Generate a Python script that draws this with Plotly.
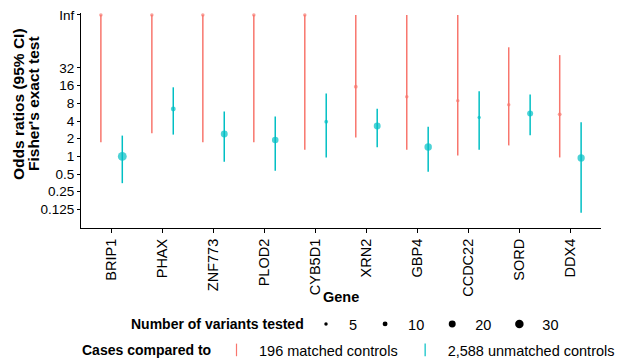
import numpy as np
import plotly.graph_objects as go

genes = ["BRIP1", "PHAX", "ZNF773", "PLOD2", "CYB5D1", "XRN2", "GBP4", "CCDC22", "SORD", "DDX4"]
INF = np.inf
matched_or = [INF, INF, INF, INF, INF, 15.4, 10.4, 8.9, 7.6, 5.2]
matched_lo = [1.74, 2.47, 1.74, 1.74, 1.3, 2.1, 1.3, 1.04, 1.54, 0.96]
matched_hi = [INF, INF, INF, INF, INF, INF, INF, INF, 72, 53]
matched_n = [5, 5, 5, 5, 5, 6, 5, 5, 5, 6]

unmatched_or = [1.0, 6.4, 2.4, 1.9, 3.9, 3.3, 1.45, 4.6, 5.4, 0.94]
unmatched_lo = [0.35, 2.35, 0.81, 0.57, 0.96, 1.43, 0.55, 1.3, 2.28, 0.11]
unmatched_hi = [2.26, 15, 5.8, 4.8, 11.8, 6.5, 3.2, 12.8, 11.3, 3.8]
unmatched_n = [33, 10, 20, 18, 6, 20, 23, 5, 15, 22]

legend_sizes = [5, 10, 20, 30]
tick_vals = [0.125, 0.25, 0.5, 1, 2, 4, 8, 16, 32, INF]
tick_text = ["0.125", "0.25", "0.5", "1", "2", "4", "8", "16", "32", "Inf"]

INF_POS = 8.0  # log2 position used for "Inf"
RED = "#F8766D"
TEAL = "#00BFC4"
FONT = "Liberation Sans, Arial, sans-serif"
W, H = 617, 361
ML, MT, MB, MR = 81, 13, 133, 16
PW, PH = W - ML - MR, H - MT - MB


def l2(v):
    v = np.asarray(v, dtype=float)
    out = np.log2(np.where(np.isinf(v), 1, v))
    return np.where(np.isinf(v), INF_POS, out)


def diam(n):
    return 1.55 * np.sqrt(np.asarray(n, dtype=float))


def px(xp):
    return (xp - ML) / PW


def py(yp):
    return (H - MB - yp) / PH


fig = go.Figure()


def add_series(orv, lo, hi, n, color, group):
    y = l2(orv)
    fig.add_trace(go.Scatter(
        x=genes, y=y, mode="markers",
        marker=dict(color=color, size=diam(n), line=dict(width=0)),
        error_y=dict(type="data", symmetric=False,
                     array=l2(hi) - y, arrayminus=y - l2(lo),
                     color=color, thickness=1.5, width=0),
        offsetgroup=group, showlegend=False, cliponaxis=True,
    ))


add_series(matched_or, matched_lo, matched_hi, matched_n, RED, "m")
add_series(unmatched_or, unmatched_lo, unmatched_hi, unmatched_n, TEAL, "u")

for s in legend_sizes:
    fig.add_trace(go.Scatter(
        x=[None], y=[None], mode="markers", name=str(s),
        marker=dict(color="black", size=float(diam(s))),
        legend="legend",
    ))

for name, color in [("196 matched controls", RED), ("2,588 unmatched controls", TEAL)]:
    fig.add_trace(go.Scatter(
        x=[None], y=[None], mode="markers", name=name,
        marker=dict(color=color, symbol="line-ns-open", size=9, line=dict(width=1.2, color=color)),
        legend="legend2",
    ))

fig.update_layout(
    width=W, height=H,
    margin=dict(l=ML, r=MR, t=MT, b=MB, autoexpand=False),
    paper_bgcolor="white", plot_bgcolor="white",
    font=dict(family=FONT, size=14, color="black"),
    scattermode="group", scattergap=0.16,
    showlegend=True,
    legend=dict(
        orientation="h", xref="container", yref="container",
        x=(326 - 23) / W, xanchor="left", y=1 - 324 / H, yanchor="middle",
        font=dict(size=14.5), itemsizing="trace", itemwidth=36, bgcolor="rgba(0,0,0,0)",
    ),
    legend2=dict(
        orientation="h", xref="container", yref="container",
        x=(233 - 19) / W, xanchor="left", y=1 - 350 / H, yanchor="middle",
        font=dict(size=14.5), itemsizing="trace", itemwidth=35, bgcolor="rgba(0,0,0,0)",
    ),
)

fig.update_xaxes(
    type="category", categoryorder="array", categoryarray=genes,
    range=[-0.6, len(genes) - 0.4], automargin=False,
    showline=True, linecolor="black", linewidth=1,
    ticks="outside", ticklen=4, tickcolor="black", tickwidth=1,
    tickangle=-90, tickfont=dict(size=14.5, color="black"),
    showgrid=False, zeroline=False,
)
fig.update_yaxes(
    range=[-4.05, 8.11], automargin=False,
    tickmode="array", tickvals=l2(tick_vals), ticktext=tick_text,
    showline=True, linecolor="black", linewidth=1,
    ticks="outside", ticklen=3, tickcolor="black", tickwidth=1,
    tickfont=dict(size=13.5, color="black"),
    showgrid=False, zeroline=False,
)

for line, xpix in [("Odds ratios (95% CI)", 19), ("Fisher's exact test", 34)]:
    fig.add_annotation(
        text="<b>" + line + "</b>",
        xref="paper", yref="paper", x=px(xpix), y=py(104),
        xanchor="center", yanchor="middle", textangle=-90, showarrow=False,
        font=dict(size=15.5, color="black"),
    )
fig.add_annotation(
    text="<b>Gene</b>", xref="paper", yref="paper", x=0.5, y=py(297),
    xanchor="center", yanchor="middle", showarrow=False,
    font=dict(size=14.5, color="black"),
)
for title, xpix, ypix in [("Number of variants tested", 129, 324), ("Cases compared to", 80, 350)]:
    fig.add_annotation(
        text="<b>" + title + "</b>", xref="paper", yref="paper", x=px(xpix), y=py(ypix),
        xanchor="left", yanchor="middle", showarrow=False,
        font=dict(size=14, color="black"),
    )

fig.write_html("out.html")
